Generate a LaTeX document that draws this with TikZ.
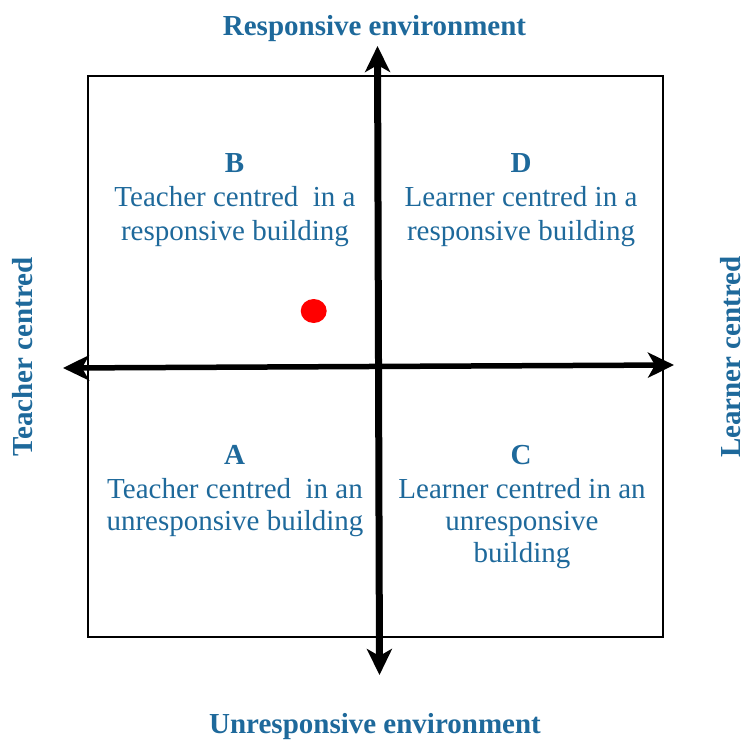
\documentclass[tikz,border=0pt]{standalone}
\usepackage{fontspec}
\setmainfont{Liberation Serif}
\usetikzlibrary{arrows.meta}
\definecolor{txtblue}{RGB}{30,105,155}
\tikzset{
  axis/.style={black, {Stealth[length=26pt, width=25pt, inset=7pt]}-{Stealth[length=26pt, width=25pt, inset=7pt]}},
  lbl/.style={text=txtblue, font=\fontsize{29}{34}\selectfont, inner sep=0pt, anchor=base},
  letterlbl/.style={lbl, font=\fontsize{29}{34}\selectfont\bfseries},
  biglbl/.style={text=txtblue, font=\fontsize{29}{34}\selectfont\bfseries, inner sep=0pt},
  quad/.style={draw=black, line width=2pt}
}
\begin{document}
\begin{tikzpicture}[x=1pt, y=-1pt]
\useasboundingbox (0,0) rectangle (749,741);
% frame
\draw[quad] (87.7,76) rectangle (663,637);
% axes ends
\coordinate (top) at (377.5,46);
\coordinate (bot) at (379.5,675);
\coordinate (lft) at (63,368);
\coordinate (rgt) at (674,365);
\draw[axis, line width=5.5pt] (lft) -- (rgt);
\draw[axis, line width=7pt] (top) -- (bot);
% axis labels
\node[biglbl] (resp) at (374.5,29) {Responsive environment};
\node[biglbl] (unresp) at (375,727) {Unresponsive environment};
\node[biglbl, rotate=90] (teach) at (23,357) {Teacher centred};
\node[biglbl, rotate=90] (learn) at (731,357) {Learner centred};
% quadrant B
\node[letterlbl] (Bl) at (234.5,172) {B};
\node[lbl] (B1) at (235,206) {Teacher centred\ \ in a};
\node[lbl] (B2) at (235,240) {responsive building};
% quadrant D
\node[letterlbl] (Dl) at (521,172) {D};
\node[lbl] (D1) at (521,206) {Learner centred in a};
\node[lbl] (D2) at (521,240) {responsive building};
% quadrant A
\node[letterlbl] (Al) at (234.5,464) {A};
\node[lbl] (A1) at (235,498) {Teacher centred\ \ in an};
\node[lbl] (A2) at (235,530) {unresponsive building};
% quadrant C
\node[letterlbl] (Cl) at (521,464) {C};
\node[lbl] (C1) at (522,498) {Learner centred in an};
\node[lbl] (C2) at (522,530) {unresponsive};
\node[lbl] (C3) at (522,562) {building};
% red dot
\fill[red] (313.7,311) ellipse [x radius=13, y radius=12];
\end{tikzpicture}
\end{document}
